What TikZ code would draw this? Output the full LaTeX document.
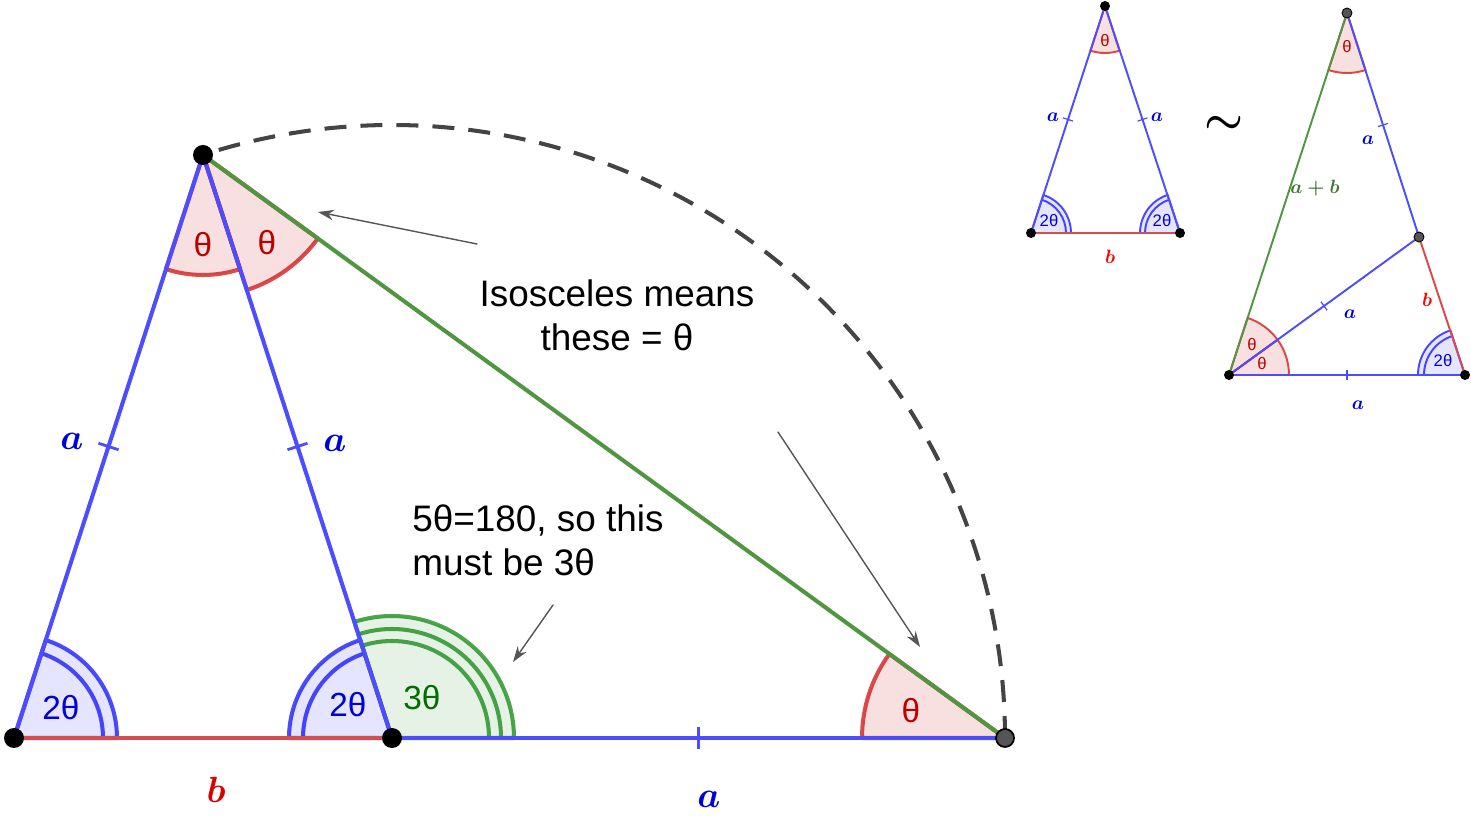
\documentclass[tikz,border=0pt]{standalone}
\usepackage{amsmath,amssymb}
\usepackage{fontspec}
\setmainfont{Liberation Sans}
\usepackage{tikz}
\usetikzlibrary{arrows.meta}

\definecolor{lineblue}{RGB}{77,77,255}
\definecolor{linered}{RGB}{214,77,77}
\definecolor{linegreen}{RGB}{80,150,64}
\definecolor{angred}{RGB}{204,0,0}
\definecolor{angblue}{RGB}{0,0,255}
\definecolor{anggreen}{RGB}{0,128,0}
\definecolor{txtred}{RGB}{190,0,0}
\definecolor{txtblue}{RGB}{0,0,220}
\definecolor{txtgreen}{RGB}{0,110,0}
\definecolor{arcgray}{RGB}{68,68,68}
\definecolor{ptgray}{RGB}{85,85,85}

\begin{document}
\begin{tikzpicture}[line cap=round,line join=round,x=0.02cm,y=0.02cm,
    side/.style={line width=2.3pt},
    thinside/.style={line width=1.1pt},
    redsec/.style={fill=angred,fill opacity=0.12,draw=angred,draw opacity=0.7},
    bluesec/.style={fill=angblue,fill opacity=0.1,draw=angblue,draw opacity=0.7},
    greensec/.style={fill=anggreen,fill opacity=0.1,draw=anggreen,draw opacity=0.7},
    biglab/.style={font=\fontsize{19}{22}\selectfont},
    smalllab/.style={font=\fontsize{9.5}{11}\selectfont},
    sidelab/.style={font=\fontsize{21}{25}\selectfont},
    tinylab/.style={font=\fontsize{11}{13}\selectfont},
    notetext/.style={font=\fontsize{21}{25}\selectfont},
    tickmark/.style={midway,sloped,inner sep=0pt},
    pointer/.style={draw=ptgray,line width=0.8pt,-{Stealth[length=9pt,width=6pt]}},
    bigdot/.style={fill=black},
    smalldot/.style={fill=black}]
      \useasboundingbox (0,0) rectangle (1471,815);

      % main figure
      \coordinate (A) at (14,77);
      \coordinate (B) at (392,77);
      \coordinate (C) at (1005,77);
      \coordinate (D) at (203,660);

      % angle sectors
      \filldraw[redsec,line width=2.3pt] (D) -- ++(252:120) arc[start angle=252,end angle=288,radius=120] -- cycle;
      \filldraw[redsec,line width=2.3pt] (D) -- ++(288:142) arc[start angle=288,end angle=324,radius=142] -- cycle;
      \filldraw[bluesec,line width=2.3pt] (A) -- ++(0:103) arc[start angle=0,end angle=72,radius=103] -- cycle;
      \draw[angblue,draw opacity=0.7,line width=2.3pt] (A) ++(0:89) arc[start angle=0,end angle=72,radius=89];
      \filldraw[bluesec,line width=2.3pt] (B) -- ++(108:103) arc[start angle=108,end angle=180,radius=103] -- cycle;
      \draw[angblue,draw opacity=0.7,line width=2.3pt] (B) ++(108:89) arc[start angle=108,end angle=180,radius=89];
      \filldraw[greensec,line width=2.3pt] (B) -- ++(0:122) arc[start angle=0,end angle=108,radius=122] -- cycle;
      \draw[anggreen,draw opacity=0.7,line width=2.3pt] (B) ++(0:109) arc[start angle=0,end angle=108,radius=109];
      \draw[anggreen,draw opacity=0.7,line width=2.3pt] (B) ++(0:97) arc[start angle=0,end angle=108,radius=97];
      \filldraw[redsec,line width=2.3pt] (C) -- ++(144:143) arc[start angle=144,end angle=180,radius=143] -- cycle;

      % sides
      \draw[side,linered] (A) -- (B);
      \draw[side,lineblue] (B) -- (C) node[tickmark,text=lineblue] (tBC) {\rule[-6pt]{1.6pt}{12pt}};
      \draw[side,lineblue] (D) -- (A) node[tickmark,text=lineblue] (tDA) {\rule[-6pt]{1.6pt}{12pt}};
      \draw[side,lineblue] (D) -- (B) node[tickmark,text=lineblue] (tDB) {\rule[-6pt]{1.6pt}{12pt}};
      \draw[side,linegreen] (D) -- (C);
      \draw[side,line cap=butt,dash pattern=on 12.5pt off 8pt,arcgray] (C) arc[start angle=0,end angle=108,radius=613];

      % labels
      \node[biglab,text=txtred] (thD1) at (203,570) {θ};
      \node[biglab,text=txtred] (thD2) at (267,572) {θ};
      \node[biglab,text=txtblue] (thA) at (61,107) {2θ};
      \node[biglab,text=txtblue] (thB) at (348,110) {2θ};
      \node[biglab,text=txtgreen] (thB2) at (422,117) {3θ};
      \node[biglab,text=txtred] (thC) at (911,104) {θ};
      \node[sidelab,text=txtblue] (labDA) at (72,374) {$\boldsymbol{a}$};
      \node[sidelab,text=txtblue] (labDB) at (335,372) {$\boldsymbol{a}$};
      \node[sidelab,text=txtblue,anchor=base,inner sep=0pt] (labBC) at (709,8) {$\boldsymbol{a}$};
      \node[sidelab,text=red!85!black,anchor=base,inner sep=0pt] (labAB) at (216,12) {$\boldsymbol{b}$};

      % notes and pointers
      \node[notetext,align=center] (isoText) at (617,500) {Isosceles means\\these = θ};
      \node[notetext,align=left,anchor=west,inner sep=0pt] (sumText) at (412,275) {5θ=180, so this\\must be 3θ};
      \coordinate (isoTail) at (477,571);
      \coordinate (isoHead) at (318,603);
      \coordinate (cTail) at (778,383);
      \coordinate (cHead) at (920,168);
      \coordinate (sumTail) at (553,210);
      \coordinate (sumHead) at (513,153);
      \draw[pointer] (isoTail) -- (isoHead);
      \draw[pointer] (cTail) -- (cHead);
      \draw[pointer] (sumTail) -- (sumHead);

      % points
      \fill[bigdot] (A) circle (10);
      \fill[bigdot] (B) circle (10);
      \fill[bigdot] (D) circle (10);
      \filldraw[fill=ptgray,draw=black,line width=1pt] (C) circle (9);

      % small triangle
      \coordinate (T) at (1105,809);
      \coordinate (L) at (1031,582);
      \coordinate (R) at (1180,582);
      \filldraw[redsec,line width=1.1pt] (T) -- ++(252:47) arc[start angle=252,end angle=288,radius=47] -- cycle;
      \filldraw[bluesec,line width=1.1pt] (L) -- ++(0:40) arc[start angle=0,end angle=72,radius=40] -- cycle;
      \draw[angblue,draw opacity=0.7,line width=1.1pt] (L) ++(0:35) arc[start angle=0,end angle=72,radius=35];
      \filldraw[bluesec,line width=1.1pt] (R) -- ++(108:40) arc[start angle=108,end angle=180,radius=40] -- cycle;
      \draw[angblue,draw opacity=0.7,line width=1.1pt] (R) ++(108:35) arc[start angle=108,end angle=180,radius=35];
      \draw[thinside,linered] (L) -- (R);
      \draw[thinside,lineblue] (T) -- (L) node[tickmark,text=lineblue] (tTL) {\rule[-3pt]{0.7pt}{6pt}};
      \draw[thinside,lineblue] (T) -- (R) node[tickmark,text=lineblue] (tTR) {\rule[-3pt]{0.7pt}{6pt}};
      \node[smalllab,text=txtred] (thT) at (1105,774) {θ};
      \node[smalllab,text=txtblue] (thL) at (1049,594) {2θ};
      \node[smalllab,text=txtblue] (thR) at (1162,594) {2θ};
      \node[tinylab,text=txtblue] (labTL) at (1053,698) {$\boldsymbol{a}$};
      \node[tinylab,text=txtblue] (labTR) at (1157,698) {$\boldsymbol{a}$};
      \node[tinylab,text=red] (labLR) at (1110,558) {$\boldsymbol{b}$};
      \fill[smalldot] (T) circle (5);
      \fill[smalldot] (L) circle (5);
      \fill[smalldot] (R) circle (5);

      \node[font=\fontsize{26}{30}\selectfont] (simSign) at (1224,690) {$\boldsymbol{\sim}$};

      % larger similar triangle
      \coordinate (P) at (1347,802);
      \coordinate (Q) at (1229,440);
      \coordinate (S) at (1419,578);
      \coordinate (R2) at (1465,440);
      \filldraw[redsec,line width=1.1pt] (P) -- ++(252:60) arc[start angle=252,end angle=288,radius=60] -- cycle;
      \filldraw[redsec,line width=1.1pt] (Q) -- ++(0:60) arc[start angle=0,end angle=36,radius=60] -- cycle;
      \filldraw[redsec,line width=1.1pt] (Q) -- ++(36:60) arc[start angle=36,end angle=72,radius=60] -- cycle;
      \filldraw[bluesec,line width=1.1pt] (R2) -- ++(108:47) arc[start angle=108,end angle=180,radius=47] -- cycle;
      \draw[angblue,draw opacity=0.7,line width=1.1pt] (R2) ++(108:41) arc[start angle=108,end angle=180,radius=41];
      \draw[thinside,linegreen] (Q) -- (P);
      \draw[thinside,lineblue] (P) -- (S) node[tickmark,text=lineblue] (tPS) {\rule[-3pt]{0.7pt}{6pt}};
      \draw[thinside,linered] (S) -- (R2);
      \draw[thinside,lineblue] (Q) -- (S) node[tickmark,text=lineblue] (tQS) {\rule[-3pt]{0.7pt}{6pt}};
      \draw[thinside,lineblue] (Q) -- (R2) node[tickmark,text=lineblue] (tQR) {\rule[-3pt]{0.7pt}{6pt}};
      \node[smalllab,text=txtred] (thP) at (1347,768) {θ};
      \node[smalllab,text=txtred] (thQ1) at (1252,470) {θ};
      \node[smalllab,text=txtred] (thQ2) at (1262,451) {θ};
      \node[smalllab,text=txtblue] (thR2) at (1443,454) {2θ};
      \node[tinylab,text=linegreen!80!black] (labPQ) at (1315,627) {$\boldsymbol{a+b}$};
      \node[tinylab,text=txtblue] (labPS) at (1368,675) {$\boldsymbol{a}$};
      \node[tinylab,text=red] (labSR) at (1427,515) {$\boldsymbol{b}$};
      \node[tinylab,text=txtblue] (labQS) at (1350,501) {$\boldsymbol{a}$};
      \node[tinylab,text=txtblue] (labQR) at (1358,410) {$\boldsymbol{a}$};
      \filldraw[fill=ptgray,draw=black,line width=0.5pt] (P) circle (5);
      \filldraw[fill=ptgray,draw=black,line width=0.5pt] (S) circle (5);
      \fill[smalldot] (Q) circle (5);
      \fill[smalldot] (R2) circle (5);
\end{tikzpicture}
\end{document}
